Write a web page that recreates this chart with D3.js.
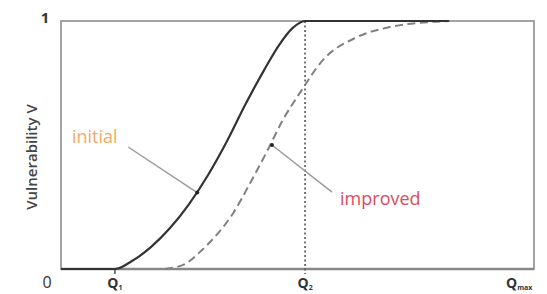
<!DOCTYPE html>
<html><head><meta charset="utf-8">
<script src="https://cdn.jsdelivr.net/npm/d3@7/dist/d3.min.js"></script>
<style>body{margin:0;background:#fff}svg{display:block}text{font-family:"Open Sans",sans-serif}</style>
</head><body><svg id="c" width="547" height="294"></svg>
<script>
// Q axis in units of Qmax (0..1); V in 0..1
const Q1 = 0.114, Q2 = 0.516, QMAX = 1;
const xTicks = [{v:0,main:"0",sub:""},{v:Q1,main:"Q",sub:"1"},{v:Q2,main:"Q",sub:"2"},{v:QMAX,main:"Q",sub:"max"}];
const initialQ = [0, 0.114, 0.15, 0.19, 0.23, 0.27, 0.31, 0.35, 0.39, 0.43, 0.46, 0.49, 0.516, 0.60, 0.82];
const initialV = [0, 0, 0.032, 0.088, 0.164, 0.26, 0.376, 0.512, 0.664, 0.804, 0.90, 0.972, 1.0, 1.0, 1.0];
const improvedQ = [0.220, 0.262, 0.294, 0.330, 0.364, 0.400, 0.436, 0.469, 0.505, 0.554, 0.626, 0.696, 0.780, 0.822];
const improvedV = [0, 0.02, 0.069, 0.140, 0.225, 0.347, 0.476, 0.601, 0.710, 0.843, 0.935, 0.976, 0.996, 1.0];
const labels = [
  {text:"initial", color:"#f2aa66", at:[0.023,0.508], from:[0.142,0.492], to:[0.288,0.308]},
  {text:"improved", color:"#e04a5e", at:[0.590,0.258], from:[0.573,0.310], to:[0.446,0.500]}
];

const svg = d3.select("#c");
const x = d3.scaleLinear().domain([0, QMAX]).range([61, 534]);
const y = d3.scaleLinear().domain([0, 1]).range([269, 21]);

// frame
svg.append("rect").attr("x", x(0)).attr("y", y(1)).attr("width", x(QMAX)-x(0)).attr("height", y(0)-y(1))
  .attr("fill","none").attr("stroke","#9a9a9a").attr("stroke-width",1.8);
svg.append("line").attr("x1",x(0)).attr("x2",x(QMAX)).attr("y1",y(0)).attr("y2",y(0))
  .attr("stroke","#888").attr("stroke-width",2.5);

// dotted vertical at Q2
svg.append("line").attr("x1",x(Q2)).attr("x2",x(Q2)).attr("y1",y(1)).attr("y2",y(0)+5)
  .attr("stroke","#555").attr("stroke-width",1.6).attr("stroke-dasharray","2,2.5");
// small tick at Q1
svg.append("line").attr("x1",x(Q1)).attr("x2",x(Q1)).attr("y1",y(0)).attr("y2",y(0)+5)
  .attr("stroke","#444").attr("stroke-width",1.4);

const line = d3.line().x(d=>x(d[0])).y(d=>y(d[1])).curve(d3.curveMonotoneX);
svg.append("path").datum(d3.zip(improvedQ, improvedV)).attr("d", line)
  .attr("fill","none").attr("stroke","#808080").attr("stroke-width",2).attr("stroke-dasharray","8,4.5");
svg.append("path").datum(d3.zip(initialQ, initialV)).attr("d", line)
  .attr("fill","none").attr("stroke","#333").attr("stroke-width",2.2);

// annotations
labels.forEach(l=>{
  svg.append("line").attr("x1",x(l.from[0])).attr("y1",y(l.from[1])).attr("x2",x(l.to[0])).attr("y2",y(l.to[1]))
    .attr("stroke","#999").attr("stroke-width",1.4);
  svg.append("circle").attr("cx",x(l.to[0])).attr("cy",y(l.to[1])).attr("r",2).attr("fill","#222");
  svg.append("text").attr("x",x(l.at[0])).attr("y",y(l.at[1])).attr("fill",l.color)
    .attr("font-size",18).text(l.text);
});

// tick labels
svg.append("text").attr("x",45).attr("y",y(1)+2).attr("text-anchor","middle").attr("font-size",15)
  .attr("font-weight",700).attr("fill","#333").text("1");
xTicks.forEach(t=>{
  const isMax = t.sub==="max";
  const tx = svg.append("text").attr("x", t.v===0 ? 47 : (isMax ? 506 : x(t.v)))
    .attr("y",288).attr("text-anchor", isMax ? "start" : "middle")
    .attr("fill","#333").attr("font-weight",700).attr("font-size", t.v===0 ? 16 : 14);
  if (t.v===0) { tx.attr("font-weight",400).text(t.main); return; }
  tx.append("tspan").text(t.main);
  tx.append("tspan").attr("font-size",7).attr("dy",2).text(t.sub);
});

// y axis label
svg.append("text").attr("transform","translate(37,157) rotate(-90)").attr("text-anchor","middle")
  .attr("font-size",15).attr("font-weight",600).attr("fill","#444").text("Vulnerability V");
</script></body></html>
